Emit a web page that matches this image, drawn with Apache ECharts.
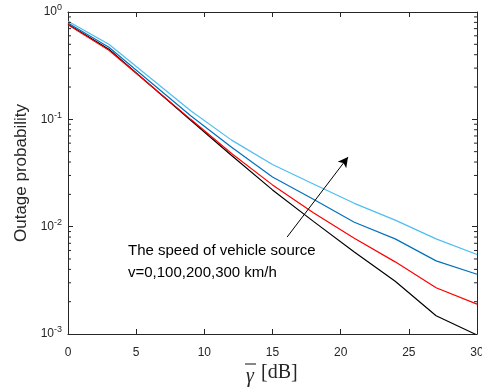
<!DOCTYPE html>
<html><head><meta charset="utf-8">
<script src="https://cdn.jsdelivr.net/npm/echarts@6/dist/echarts.min.js"></script>
<style>html,body{margin:0;padding:0;background:#fff}#c{width:482px;height:389px}</style>
</head><body><div id="c"></div>
<script>
const snr = [0, 3, 6, 9, 12, 15, 18, 21, 24, 27, 30];
const v0   = [0.77, 0.45, 0.21, 0.098, 0.046, 0.022, 0.0112, 0.0058, 0.0031, 0.00148, 0.00098];
const v100 = [0.76, 0.44, 0.21, 0.100, 0.048, 0.0245, 0.0135, 0.0078, 0.0047, 0.0027, 0.0019];
const v200 = [0.79, 0.47, 0.225, 0.108, 0.055, 0.029, 0.018, 0.011, 0.0077, 0.0048, 0.0036];
const v300 = [0.82, 0.50, 0.245, 0.12, 0.064, 0.038, 0.025, 0.0165, 0.0115, 0.0077, 0.0055];
const seriesNames = ['v=0', 'v=100', 'v=200', 'v=300'];
const colors = ['#000000', '#FF0000', '#0072BD', '#4DBEEE'];
const yMin = 0.001, yMax = 1;
const annotText = ['The speed of vehicle source', 'v=0,100,200,300 km/h'];
const arrowFrom = [16.07, 0.008], arrowTo = [20.54, 0.0445];

const minorVals = [];
for (let e = -3; e < 0; e++) for (let m = 2; m <= 9; m++) minorVals.push([0, m * Math.pow(10, e)]);

const axisColor = '#262626';
const lab = {color: axisColor, fontSize: 12, fontFamily: 'Liberation Sans, Arial, sans-serif'};
const chart = echarts.init(document.getElementById('c'));
const data = [v0, v100, v200, v300];
const series = data.map((d, i) => ({
  name: seriesNames[i], type: 'line', data: snr.map((x, j) => [x, d[j]]),
  symbol: 'none', lineStyle: {color: colors[i], width: 1.2}, itemStyle: {color: colors[i]},
  z: 3
}));
series[0].markLine = {
  silent: true, symbol: ['none', 'arrow'], symbolSize: [8, 10],
  lineStyle: {color: '#000', width: 1, type: 'solid'}, label: {show: false},
  data: [[{coord: arrowFrom}, {coord: arrowTo}]]
};
series.push({
  type: 'custom', data: minorVals, silent: true, z: 4,
  renderItem: function (params, api) {
    const v = api.value(1);
    const l = api.coord([0, v]);
    const r = api.coord([30, v]);
    return {type: 'group', children: [
      {type: 'line', shape: {x1: l[0], y1: l[1], x2: l[0] + 3, y2: l[1]}, style: {stroke: axisColor, lineWidth: 1}},
      {type: 'line', shape: {x1: r[0], y1: r[1], x2: r[0] - 3, y2: r[1]}, style: {stroke: axisColor, lineWidth: 1}}
    ]};
  }
});
const serif = 'Liberation Serif, Times New Roman, serif';
chart.setOption({
  animation: false,
  backgroundColor: '#fff',
  grid: {left: 68, right: 5, top: 12, bottom: 55, outerBoundsMode: 'none', containLabel: false},
  xAxis: [{
    type: 'value', min: 0, max: 30, interval: 5,
    axisLine: {onZero: false, lineStyle: {color: axisColor}}, axisTick: {inside: true, length: 5, lineStyle: {color: axisColor}},
    splitLine: {show: false}, axisLabel: Object.assign({margin: 13}, lab)
  }, {
    type: 'value', min: 0, max: 30, interval: 5, position: 'top',
    axisLine: {onZero: false, lineStyle: {color: axisColor}}, axisTick: {inside: true, length: 5, lineStyle: {color: axisColor}},
    splitLine: {show: false}, axisLabel: {show: false}
  }],
  yAxis: [{
    type: 'log', logBase: 10, min: yMin, max: yMax,
    axisLine: {show: true, onZero: false, lineStyle: {color: axisColor}}, axisTick: {show: true, inside: true, length: 5, lineStyle: {color: axisColor}},
    splitLine: {show: false}, minorTick: {show: false},
    axisLabel: Object.assign({margin: 6, formatter: v => '10{s|' + Math.round(Math.log10(v)) + '}',
      rich: {s: {fontSize: 9, color: axisColor, padding: [0, 0, 8, 0], fontFamily: 'Liberation Sans, Arial, sans-serif'}}}, lab),
    name: 'Outage probability', nameLocation: 'middle', nameGap: 29,
    nameTextStyle: {fontSize: 17, color: axisColor, fontFamily: 'Liberation Sans, Arial, sans-serif'}
  }, {
    type: 'log', logBase: 10, min: yMin, max: yMax, position: 'right',
    axisLine: {show: true, onZero: false, lineStyle: {color: axisColor}}, axisTick: {show: true, inside: true, length: 5, lineStyle: {color: axisColor}},
    splitLine: {show: false}, axisLabel: {show: false}
  }],
  graphic: [{
    type: 'text', left: 128, top: 240,
    style: {text: annotText.join('\n'), fill: '#000', font: '15px Liberation Sans, Arial, sans-serif', lineHeight: 22}
  }, {
    type: 'text', x: 250, y: 377,
    style: {text: 'γ', fill: axisColor, font: 'italic 20px ' + serif, textAlign: 'center', textVerticalAlign: 'middle'}
  }, {
    type: 'line', shape: {x1: 245, y1: 364, x2: 256, y2: 364}, style: {stroke: axisColor, lineWidth: 1.1}
  }, {
    type: 'text', x: 261, y: 373,
    style: {text: '[dB]', fill: axisColor, font: '20px ' + serif, textAlign: 'left', textVerticalAlign: 'middle'}
  }],
  series: series
});
</script></body></html>
